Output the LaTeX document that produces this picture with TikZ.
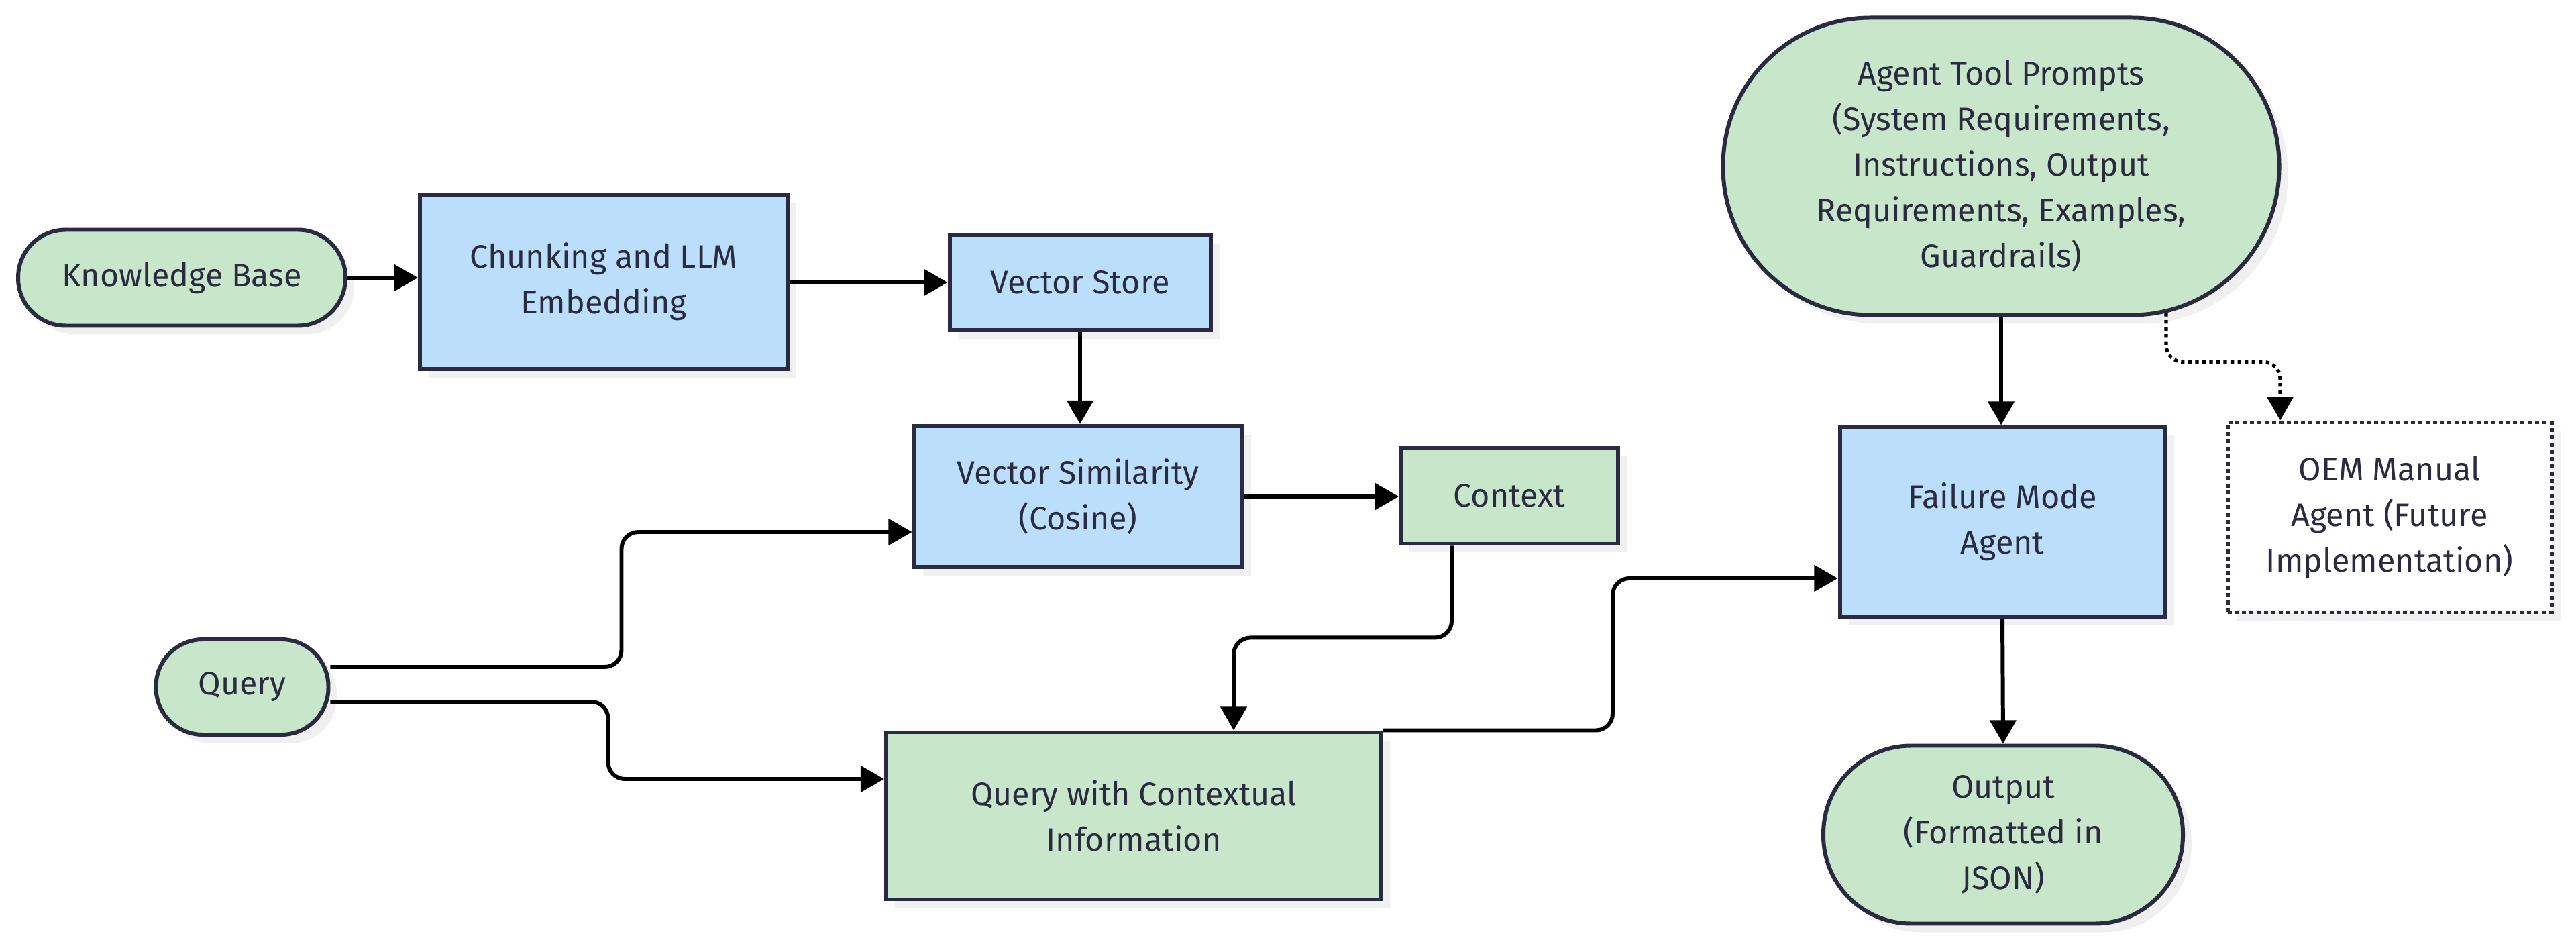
\documentclass[tikz,border=0pt]{standalone}
\usepackage{fontspec}
\setmainfont{Fira Sans}
\usetikzlibrary{arrows.meta,shadows}

\definecolor{boxgreen}{HTML}{C8E6C9}
\definecolor{boxblue}{HTML}{BBDEFB}
\definecolor{boxline}{HTML}{2A2A40}

\begin{document}
\begin{tikzpicture}[font=\fontsize{13.8}{19.35}\selectfont]

	\useasboundingbox (0,0) rectangle (38.4,-14.07);

	\tikzstyle box=[rectangle, draw=boxline, line width=1.7pt, text=boxline, align=center, inner sep=0pt,
		drop shadow={shadow xshift=1.3mm, shadow yshift=-1.3mm, fill=black!6, opacity=1}];
	\tikzstyle blue box=[box, fill=boxblue];
	\tikzstyle green box=[box, fill=boxgreen];
	\tikzstyle flow lines=[line width=1.7pt, rounded corners=2.5mm, -{Triangle[length=10pt,width=11pt]}];
	\tikzstyle future lines=[line width=1.5pt, dash pattern=on 1.5pt off 1.5pt, rounded corners=2.5mm, -{Triangle[length=10pt,width=11pt]}];

	% retrieval side
	\node[green box, rounded corners=0.71cm, minimum width=4.88cm, minimum height=1.43cm] (kb) at (2.71,-4.14) {Knowledge Base};
	\node[blue box, minimum width=5.48cm, minimum height=2.6cm] (chunk) at (9.0,-4.2) {Chunking and LLM\\Embedding};
	\node[blue box, minimum width=3.89cm, minimum height=1.42cm] (vstore) at (16.1,-4.21) {Vector Store};
	\node[blue box, minimum width=4.89cm, minimum height=2.1cm] (vsim) at (16.07,-7.4) {Vector Similarity\\(Cosine)};
	\node[green box, minimum width=3.24cm, minimum height=1.43cm] (ctx) at (22.5,-7.39) {Context};
	\node[green box, rounded corners=0.7cm, minimum width=2.57cm, minimum height=1.42cm] (query) at (3.61,-10.24) {Query};
	\node[green box, minimum width=7.38cm, minimum height=2.49cm] (qwc) at (16.9,-12.16) {Query with Contextual\\Information};

	% agent side
	\node[green box, rounded corners=2.2cm, minimum width=8.29cm, minimum height=4.43cm] (prompts) at (29.83,-2.48)
		{Agent Tool Prompts\\(System Requirements,\\Instructions, Output\\Requirements, Examples,\\Guardrails)};
	\node[blue box, minimum width=4.85cm, minimum height=2.83cm] (fma) at (29.85,-7.78) {Failure Mode\\Agent};
	\node[box, fill=white, dash pattern=on 1.7pt off 1.4pt, minimum width=4.83cm, minimum height=2.83cm] (oem) at (35.62,-7.71)
		{OEM Manual\\Agent (Future\\Implementation)};
	\node[green box, rounded corners=1.31cm, minimum width=5.36cm, minimum height=2.65cm] (out) at (29.86,-12.44)
		{Output\\(Formatted in\\JSON)};

	\draw[flow lines] (kb.east) -- (kb.east -| chunk.west);
	\draw[flow lines] (chunk.east |- vstore.west) -- (vstore.west);
	\draw[flow lines] (vstore.south) -- (vstore.south |- vsim.north);
	\draw[flow lines] (vsim.east) -- (vsim.east -| ctx.west);
	\draw[flow lines] ([xshift=-8.6mm]ctx.south) -- ++(0,-1.37) -| ([xshift=14.9mm]qwc.north);
	\draw[flow lines] ([yshift=3mm]query.east) -- ++(4.34,0) |- ([yshift=-5.3mm]vsim.west);
	\draw[flow lines] ([yshift=-2.2mm]query.east) -- ++(4.14,0) |- ([yshift=5.5mm]qwc.west);
	\draw[flow lines] (qwc.north east) -- ++(3.42,0) |- ([yshift=-8.4mm]fma.west);
	\draw[flow lines] (prompts.south) -- (prompts.south |- fma.north);
	\draw[future lines] ([xshift=2.46cm,yshift=0.6mm]prompts.south) -- ++(0,-0.73) -| ([xshift=-1.63cm]oem.north);
	\draw[flow lines] (fma.south) -- (out.north);

\end{tikzpicture}
\end{document}
